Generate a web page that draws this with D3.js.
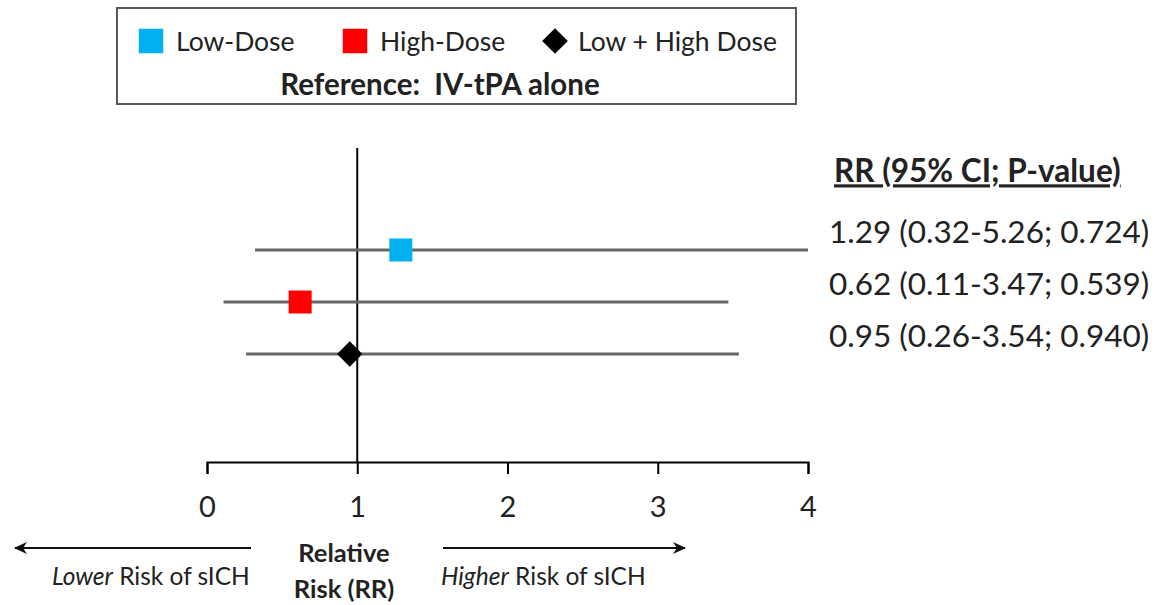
<!DOCTYPE html>
<html>
<head>
<meta charset="utf-8">
<script src="https://cdn.jsdelivr.net/npm/d3@7"></script>
<style>
  html, body { margin: 0; padding: 0; background: #fff; }
  svg { display: block; font-family: "Lato", "Open Sans", sans-serif; }
</style>
</head>
<body>
<svg id="chart" width="1157" height="605"></svg>
<script>
// Forest plot: relative risk of sICH vs IV-tPA alone
const groups   = ["Low-Dose", "High-Dose", "Low + High Dose"];
const rr       = [1.29, 0.62, 0.95];
const ciLow    = [0.32, 0.11, 0.26];
const ciHigh   = [5.26, 3.47, 3.54];
const pValues  = ["0.724", "0.539", "0.940"];
const colors   = ["#00B0F0", "#FF0000", "#000000"];
const shapes   = ["square", "square", "diamond"];
const xTicks   = [0, 1, 2, 3, 4];
const refValue = 1;

const svg = d3.select("#chart");
const textColor = "#222";

const x = d3.scaleLinear().domain([0, 4]).range([207, 808]);
const y = d3.scalePoint().domain(groups).range([250, 354]);

// squares drawn upright, the diamond is a square turned by 45 degrees
const symbolPath = size => d3.symbol(d3.symbolSquare, size)();
const symbolRotate = shape => shape === "diamond" ? 45 : 0;

// ---- Legend box ----
const legend = svg.append("g");
legend.append("rect")
  .attr("x", 117).attr("y", 8).attr("width", 679).attr("height", 96)
  .attr("fill", "#fff").attr("stroke", "#595959").attr("stroke-width", 2);

const legendX = [151, 355, 555];
groups.forEach((g, i) => {
  const item = legend.append("g").attr("transform", `translate(${legendX[i]},41)`);
  const sz = shapes[i] === "diamond" ? 330 : 600;
  item.append("path")
    .attr("d", symbolPath(sz))
    .attr("transform", `rotate(${symbolRotate(shapes[i])})`)
    .attr("fill", colors[i]);
  item.append("text")
    .attr("x", shapes[i] === "diamond" ? 23 : 25).attr("y", 0).attr("dy", "0.36em")
    .attr("font-size", 26.5).attr("fill", textColor)
    .text(g);
});
legend.append("text")
  .attr("x", 440).attr("y", 84).attr("dy", "0.36em")
  .attr("text-anchor", "middle").attr("font-size", 29.5).attr("font-weight", "bold")
  .attr("fill", textColor).style("white-space", "pre")
  .text("Reference:  IV-tPA alone");

// ---- Axis ----
const axis = svg.append("g")
  .attr("transform", "translate(0,462)")
  .call(d3.axisBottom(x).tickValues(xTicks).tickSize(12).tickSizeOuter(12).tickPadding(22)
        .tickFormat(d3.format("d")));
axis.select(".domain").attr("stroke", "#000").attr("stroke-width", 2);
axis.selectAll(".tick line").attr("stroke", "#000").attr("stroke-width", 2);
axis.selectAll(".tick text").attr("font-size", 29).attr("fill", textColor)
  .attr("font-family", "Lato, sans-serif");

// ---- Reference line at RR = 1 ----
svg.append("line")
  .attr("x1", x(refValue)).attr("x2", x(refValue))
  .attr("y1", 148).attr("y2", 462)
  .attr("stroke", "#000").attr("stroke-width", 2);

// ---- CI lines and point estimates ----
const [dMin, dMax] = x.domain();
groups.forEach((g, i) => {
  svg.append("line")
    .attr("x1", x(Math.max(ciLow[i], dMin))).attr("x2", x(Math.min(ciHigh[i], dMax)))
    .attr("y1", y(g)).attr("y2", y(g))
    .attr("stroke", "#666").attr("stroke-width", 3);
});
groups.forEach((g, i) => {
  const sz = shapes[i] === "diamond" ? 320 : 529;
  svg.append("path")
    .attr("d", symbolPath(sz))
    .attr("transform", `translate(${x(rr[i])},${y(g)}) rotate(${symbolRotate(shapes[i])})`)
    .attr("fill", colors[i]);
});

// ---- RR table on the right ----
svg.append("text")
  .attr("x", 834).attr("y", 171).attr("dy", "0.36em")
  .attr("font-size", 31.5).attr("font-weight", "bold").attr("fill", textColor)
  .attr("text-decoration", "underline")
  .text("RR (95% CI; P-value)");
groups.forEach((g, i) => {
  svg.append("text")
    .attr("x", 829).attr("y", y(g) - 18).attr("dy", "0.36em")
    .attr("font-size", 31.5).attr("fill", textColor)
    .text(`${rr[i].toFixed(2)} (${ciLow[i].toFixed(2)}-${ciHigh[i].toFixed(2)}; ${pValues[i]})`);
});

// ---- Direction arrows and axis title ----
const defs = svg.append("defs");
defs.append("marker")
  .attr("id", "arrow").attr("viewBox", "0 0 12 12").attr("refX", 11).attr("refY", 6)
  .attr("markerUnits", "userSpaceOnUse")
  .attr("markerWidth", 13).attr("markerHeight", 13).attr("orient", "auto")
  .append("path").attr("d", "M0,0.5 L12,6 L0,11.5 L3.5,6 Z").attr("fill", "#111");

svg.append("line")
  .attr("x1", 251).attr("x2", 15).attr("y1", 548).attr("y2", 548)
  .attr("stroke", "#111").attr("stroke-width", 2).attr("marker-end", "url(#arrow)");
svg.append("line")
  .attr("x1", 443).attr("x2", 685).attr("y1", 548).attr("y2", 548)
  .attr("stroke", "#111").attr("stroke-width", 2).attr("marker-end", "url(#arrow)");

const lower = svg.append("text").attr("x", 52).attr("y", 576).attr("dy", "0.36em")
  .attr("font-size", 24.5).attr("fill", textColor);
lower.append("tspan").attr("font-style", "italic").text("Lower");
lower.append("tspan").text(" Risk of sICH");

const higher = svg.append("text").attr("x", 441).attr("y", 576).attr("dy", "0.36em")
  .attr("font-size", 24.5).attr("fill", textColor);
higher.append("tspan").attr("font-style", "italic").text("Higher");
higher.append("tspan").text(" Risk of sICH");

svg.append("text").attr("x", 344).attr("y", 553).attr("dy", "0.36em")
  .attr("text-anchor", "middle").attr("font-size", 25.5).attr("font-weight", "bold")
  .attr("fill", textColor).text("Relative");
svg.append("text").attr("x", 344).attr("y", 589).attr("dy", "0.36em")
  .attr("text-anchor", "middle").attr("font-size", 25.5).attr("font-weight", "bold")
  .attr("fill", textColor).text("Risk (RR)");
</script>
</body>
</html>
